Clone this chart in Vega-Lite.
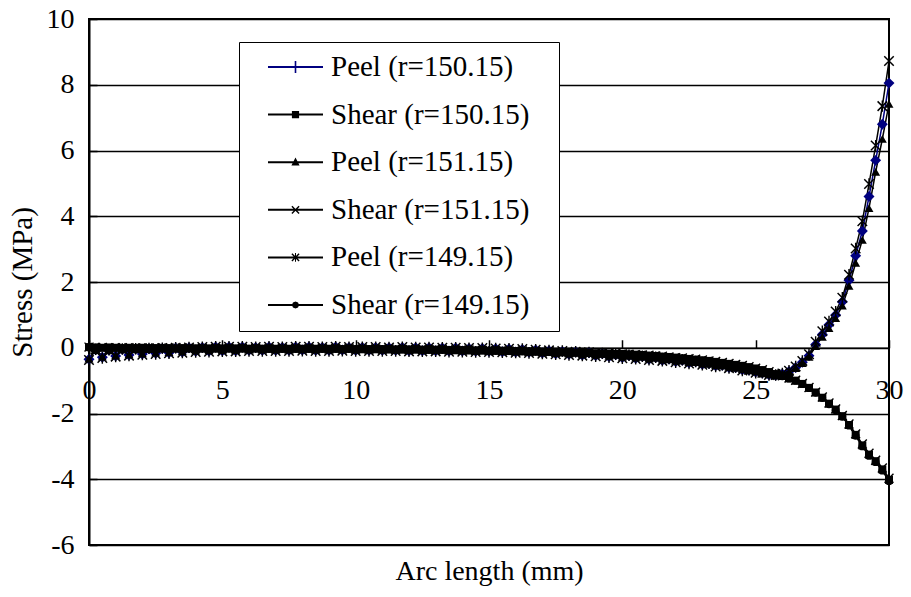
{
  "$schema": "https://vega.github.io/schema/vega-lite/v6.json",
  "width": 800,
  "height": 526,
  "autosize": {"type": "none"},
  "padding": {"left": 89, "top": 19, "right": 22, "bottom": 52},
  "background": "white",
  "config": {
    "font": "Liberation Serif",
    "view": {"stroke": "black", "strokeWidth": 2}
  },
  "data": {"values": [
    {"x":0,"p150":-0.35,"s150":0.02,"p151":-0.33,"s151":0.02,"p149":-0.37,"s149":0.01},
    {"x":0.25,"p150":-0.06,"s150":0.01,"p151":-0.07,"s151":0.01,"p149":-0.05,"s149":0.0},
    {"x":0.5,"p150":-0.29,"s150":0.0,"p151":-0.27,"s151":0.01,"p149":-0.31,"s149":0.0},
    {"x":0.75,"p150":-0.07,"s150":0.01,"p151":-0.08,"s151":0.0,"p149":-0.06,"s149":0.0},
    {"x":1,"p150":-0.25,"s150":0.0,"p151":-0.23,"s151":0.0,"p149":-0.27,"s149":-0.01},
    {"x":1.25,"p150":-0.05,"s150":-0.01,"p151":-0.06,"s151":0.0,"p149":-0.04,"s149":-0.01},
    {"x":1.5,"p150":-0.22,"s150":0.0,"p151":-0.2,"s151":0.0,"p149":-0.24,"s149":-0.01},
    {"x":1.75,"p150":-0.04,"s150":-0.01,"p151":-0.05,"s151":-0.01,"p149":-0.03,"s149":-0.01},
    {"x":2,"p150":-0.19,"s150":0.0,"p151":-0.17,"s151":-0.01,"p149":-0.21,"s149":-0.01},
    {"x":2.25,"p150":-0.03,"s150":-0.01,"p151":-0.04,"s151":-0.01,"p149":-0.02,"s149":-0.02},
    {"x":2.5,"p150":-0.17,"s150":-0.01,"p151":-0.15,"s151":-0.01,"p149":-0.19,"s149":-0.02},
    {"x":2.75,"p150":-0.02,"s150":-0.01,"p151":-0.03,"s151":-0.01,"p149":-0.01,"s149":-0.02},
    {"x":3,"p150":-0.15,"s150":-0.01,"p151":-0.13,"s151":-0.01,"p149":-0.17,"s149":-0.02},
    {"x":3.25,"p150":-0.01,"s150":-0.02,"p151":-0.02,"s151":-0.02,"p149":0.0,"s149":-0.02},
    {"x":3.5,"p150":-0.13,"s150":-0.01,"p151":-0.11,"s151":-0.01,"p149":-0.15,"s149":-0.02},
    {"x":3.75,"p150":0.0,"s150":-0.02,"p151":-0.01,"s151":-0.02,"p149":0.01,"s149":-0.02},
    {"x":4,"p150":-0.11,"s150":-0.02,"p151":-0.09,"s151":-0.02,"p149":-0.13,"s149":-0.02},
    {"x":4.25,"p150":0.01,"s150":-0.02,"p151":0.0,"s151":-0.02,"p149":0.02,"s149":-0.03},
    {"x":4.5,"p150":-0.1,"s150":-0.02,"p151":-0.08,"s151":-0.02,"p149":-0.12,"s149":-0.03},
    {"x":4.75,"p150":0.02,"s150":-0.02,"p151":0.01,"s151":-0.02,"p149":0.03,"s149":-0.03},
    {"x":5,"p150":-0.09,"s150":-0.02,"p151":-0.07,"s151":-0.02,"p149":-0.11,"s149":-0.03},
    {"x":5.25,"p150":0.02,"s150":-0.02,"p151":0.01,"s151":-0.02,"p149":0.03,"s149":-0.03},
    {"x":5.5,"p150":-0.09,"s150":-0.02,"p151":-0.07,"s151":-0.02,"p149":-0.11,"s149":-0.03},
    {"x":5.75,"p150":0.02,"s150":-0.02,"p151":0.01,"s151":-0.02,"p149":0.03,"s149":-0.03},
    {"x":6,"p150":-0.08,"s150":-0.03,"p151":-0.06,"s151":-0.03,"p149":-0.1,"s149":-0.03},
    {"x":6.25,"p150":0.01,"s150":-0.02,"p151":0.0,"s151":-0.02,"p149":0.02,"s149":-0.03},
    {"x":6.5,"p150":-0.08,"s150":-0.03,"p151":-0.06,"s151":-0.03,"p149":-0.1,"s149":-0.03},
    {"x":6.75,"p150":0.02,"s150":-0.03,"p151":0.01,"s151":-0.03,"p149":0.03,"s149":-0.04},
    {"x":7,"p150":-0.08,"s150":-0.03,"p151":-0.06,"s151":-0.03,"p149":-0.1,"s149":-0.04},
    {"x":7.25,"p150":0.01,"s150":-0.03,"p151":0.0,"s151":-0.03,"p149":0.02,"s149":-0.04},
    {"x":7.5,"p150":-0.08,"s150":-0.03,"p151":-0.06,"s151":-0.03,"p149":-0.1,"s149":-0.04},
    {"x":7.75,"p150":0.02,"s150":-0.03,"p151":0.01,"s151":-0.03,"p149":0.03,"s149":-0.04},
    {"x":8,"p150":-0.07,"s150":-0.03,"p151":-0.05,"s151":-0.03,"p149":-0.09,"s149":-0.04},
    {"x":8.25,"p150":0.02,"s150":-0.03,"p151":0.01,"s151":-0.03,"p149":0.03,"s149":-0.04},
    {"x":8.5,"p150":-0.08,"s150":-0.03,"p151":-0.06,"s151":-0.03,"p149":-0.1,"s149":-0.04},
    {"x":8.75,"p150":0.01,"s150":-0.03,"p151":0.0,"s151":-0.03,"p149":0.02,"s149":-0.04},
    {"x":9,"p150":-0.08,"s150":-0.03,"p151":-0.06,"s151":-0.03,"p149":-0.1,"s149":-0.04},
    {"x":9.25,"p150":0.02,"s150":-0.03,"p151":0.01,"s151":-0.03,"p149":0.03,"s149":-0.04},
    {"x":9.5,"p150":-0.07,"s150":-0.04,"p151":-0.05,"s151":-0.03,"p149":-0.09,"s149":-0.04},
    {"x":9.75,"p150":0.01,"s150":-0.03,"p151":0.0,"s151":-0.03,"p149":0.02,"s149":-0.04},
    {"x":10,"p150":-0.08,"s150":-0.04,"p151":-0.06,"s151":-0.04,"p149":-0.1,"s149":-0.05},
    {"x":10.25,"p150":0.01,"s150":-0.04,"p151":0.0,"s151":-0.04,"p149":0.02,"s149":-0.05},
    {"x":10.5,"p150":-0.08,"s150":-0.04,"p151":-0.06,"s151":-0.04,"p149":-0.1,"s149":-0.05},
    {"x":10.75,"p150":0.01,"s150":-0.04,"p151":0.0,"s151":-0.04,"p149":0.02,"s149":-0.05},
    {"x":11,"p150":-0.08,"s150":-0.04,"p151":-0.06,"s151":-0.04,"p149":-0.1,"s149":-0.05},
    {"x":11.25,"p150":0.0,"s150":-0.05,"p151":-0.01,"s151":-0.04,"p149":0.01,"s149":-0.05},
    {"x":11.5,"p150":-0.08,"s150":-0.05,"p151":-0.06,"s151":-0.05,"p149":-0.1,"s149":-0.06},
    {"x":11.75,"p150":0.01,"s150":-0.05,"p151":0.0,"s151":-0.05,"p149":0.02,"s149":-0.06},
    {"x":12,"p150":-0.09,"s150":-0.05,"p151":-0.07,"s151":-0.05,"p149":-0.11,"s149":-0.06},
    {"x":12.25,"p150":0.0,"s150":-0.05,"p151":-0.01,"s151":-0.05,"p149":0.01,"s149":-0.06},
    {"x":12.5,"p150":-0.09,"s150":-0.06,"p151":-0.07,"s151":-0.05,"p149":-0.11,"s149":-0.06},
    {"x":12.75,"p150":0.0,"s150":-0.06,"p151":-0.01,"s151":-0.06,"p149":0.01,"s149":-0.07},
    {"x":13,"p150":-0.09,"s150":-0.06,"p151":-0.07,"s151":-0.06,"p149":-0.11,"s149":-0.07},
    {"x":13.25,"p150":-0.01,"s150":-0.06,"p151":-0.02,"s151":-0.06,"p149":0.0,"s149":-0.07},
    {"x":13.5,"p150":-0.1,"s150":-0.07,"p151":-0.08,"s151":-0.06,"p149":-0.12,"s149":-0.07},
    {"x":13.75,"p150":-0.01,"s150":-0.07,"p151":-0.02,"s151":-0.07,"p149":0.0,"s149":-0.08},
    {"x":14,"p150":-0.1,"s150":-0.07,"p151":-0.08,"s151":-0.07,"p149":-0.12,"s149":-0.08},
    {"x":14.25,"p150":-0.02,"s150":-0.08,"p151":-0.03,"s151":-0.07,"p149":-0.01,"s149":-0.08},
    {"x":14.5,"p150":-0.11,"s150":-0.08,"p151":-0.09,"s151":-0.08,"p149":-0.13,"s149":-0.09},
    {"x":14.75,"p150":-0.02,"s150":-0.08,"p151":-0.03,"s151":-0.08,"p149":-0.01,"s149":-0.09},
    {"x":15,"p150":-0.11,"s150":-0.09,"p151":-0.09,"s151":-0.08,"p149":-0.13,"s149":-0.09},
    {"x":15.25,"p150":-0.03,"s150":-0.09,"p151":-0.04,"s151":-0.09,"p149":-0.02,"s149":-0.1},
    {"x":15.5,"p150":-0.12,"s150":-0.09,"p151":-0.1,"s151":-0.09,"p149":-0.14,"s149":-0.1},
    {"x":15.75,"p150":-0.04,"s150":-0.1,"p151":-0.05,"s151":-0.1,"p149":-0.03,"s149":-0.1},
    {"x":16,"p150":-0.13,"s150":-0.1,"p151":-0.11,"s151":-0.1,"p149":-0.15,"s149":-0.11},
    {"x":16.25,"p150":-0.05,"s150":-0.11,"p151":-0.06,"s151":-0.1,"p149":-0.04,"s149":-0.11},
    {"x":16.5,"p150":-0.14,"s150":-0.11,"p151":-0.12,"s151":-0.11,"p149":-0.16,"s149":-0.12},
    {"x":16.75,"p150":-0.07,"s150":-0.12,"p151":-0.08,"s151":-0.11,"p149":-0.06,"s149":-0.12},
    {"x":17,"p150":-0.16,"s150":-0.12,"p151":-0.14,"s151":-0.12,"p149":-0.18,"s149":-0.13},
    {"x":17.25,"p150":-0.09,"s150":-0.13,"p151":-0.1,"s151":-0.12,"p149":-0.08,"s149":-0.13},
    {"x":17.5,"p150":-0.18,"s150":-0.13,"p151":-0.16,"s151":-0.13,"p149":-0.2,"s149":-0.14},
    {"x":17.75,"p150":-0.11,"s150":-0.14,"p151":-0.12,"s151":-0.13,"p149":-0.1,"s149":-0.14},
    {"x":18,"p150":-0.2,"s150":-0.14,"p151":-0.18,"s151":-0.14,"p149":-0.22,"s149":-0.15},
    {"x":18.25,"p150":-0.13,"s150":-0.15,"p151":-0.14,"s151":-0.14,"p149":-0.12,"s149":-0.15},
    {"x":18.5,"p150":-0.22,"s150":-0.15,"p151":-0.2,"s151":-0.15,"p149":-0.24,"s149":-0.16},
    {"x":18.75,"p150":-0.15,"s150":-0.16,"p151":-0.16,"s151":-0.15,"p149":-0.14,"s149":-0.16},
    {"x":19,"p150":-0.24,"s150":-0.17,"p151":-0.22,"s151":-0.16,"p149":-0.26,"s149":-0.17},
    {"x":19.25,"p150":-0.18,"s150":-0.17,"p151":-0.19,"s151":-0.17,"p149":-0.17,"s149":-0.18},
    {"x":19.5,"p150":-0.27,"s150":-0.18,"p151":-0.25,"s151":-0.17,"p149":-0.29,"s149":-0.18},
    {"x":19.75,"p150":-0.21,"s150":-0.19,"p151":-0.22,"s151":-0.18,"p149":-0.2,"s149":-0.19},
    {"x":20,"p150":-0.3,"s150":-0.19,"p151":-0.28,"s151":-0.19,"p149":-0.32,"s149":-0.2},
    {"x":20.25,"p150":-0.24,"s150":-0.2,"p151":-0.25,"s151":-0.2,"p149":-0.23,"s149":-0.21},
    {"x":20.5,"p150":-0.32,"s150":-0.21,"p151":-0.3,"s151":-0.21,"p149":-0.34,"s149":-0.22},
    {"x":20.75,"p150":-0.27,"s150":-0.22,"p151":-0.28,"s151":-0.22,"p149":-0.26,"s149":-0.23},
    {"x":21,"p150":-0.35,"s150":-0.24,"p151":-0.33,"s151":-0.23,"p149":-0.37,"s149":-0.24},
    {"x":21.25,"p150":-0.3,"s150":-0.25,"p151":-0.31,"s151":-0.25,"p149":-0.29,"s149":-0.26},
    {"x":21.5,"p150":-0.38,"s150":-0.27,"p151":-0.36,"s151":-0.26,"p149":-0.4,"s149":-0.27},
    {"x":21.75,"p150":-0.34,"s150":-0.28,"p151":-0.35,"s151":-0.28,"p149":-0.33,"s149":-0.29},
    {"x":22,"p150":-0.42,"s150":-0.3,"p151":-0.4,"s151":-0.3,"p149":-0.44,"s149":-0.31},
    {"x":22.25,"p150":-0.38,"s150":-0.32,"p151":-0.39,"s151":-0.31,"p149":-0.37,"s149":-0.32},
    {"x":22.5,"p150":-0.46,"s150":-0.34,"p151":-0.44,"s151":-0.33,"p149":-0.48,"s149":-0.35},
    {"x":22.75,"p150":-0.43,"s150":-0.36,"p151":-0.44,"s151":-0.35,"p149":-0.42,"s149":-0.37},
    {"x":23,"p150":-0.5,"s150":-0.38,"p151":-0.48,"s151":-0.37,"p149":-0.52,"s149":-0.39},
    {"x":23.25,"p150":-0.48,"s150":-0.4,"p151":-0.49,"s151":-0.4,"p149":-0.47,"s149":-0.41},
    {"x":23.5,"p150":-0.55,"s150":-0.43,"p151":-0.53,"s151":-0.42,"p149":-0.57,"s149":-0.44},
    {"x":23.75,"p150":-0.53,"s150":-0.46,"p151":-0.54,"s151":-0.45,"p149":-0.52,"s149":-0.47},
    {"x":24,"p150":-0.6,"s150":-0.49,"p151":-0.58,"s151":-0.48,"p149":-0.62,"s149":-0.5},
    {"x":24.25,"p150":-0.6,"s150":-0.52,"p151":-0.61,"s151":-0.51,"p149":-0.59,"s149":-0.53},
    {"x":24.5,"p150":-0.67,"s150":-0.55,"p151":-0.65,"s151":-0.54,"p149":-0.69,"s149":-0.56},
    {"x":24.75,"p150":-0.68,"s150":-0.59,"p151":-0.69,"s151":-0.58,"p149":-0.67,"s149":-0.6},
    {"x":25,"p150":-0.74,"s150":-0.63,"p151":-0.72,"s151":-0.62,"p149":-0.76,"s149":-0.64},
    {"x":25.25,"p150":-0.77,"s150":-0.68,"p151":-0.78,"s151":-0.67,"p149":-0.76,"s149":-0.69},
    {"x":25.5,"p150":-0.82,"s150":-0.74,"p151":-0.81,"s151":-0.73,"p149":-0.83,"s149":-0.75},
    {"x":25.75,"p150":-0.84,"s150":-0.8,"p151":-0.85,"s151":-0.79,"p149":-0.83,"s149":-0.81},
    {"x":26,"p150":-0.8,"s150":-0.86,"p151":-0.8,"s151":-0.85,"p149":-0.78,"s149":-0.87},
    {"x":26.25,"p150":-0.72,"s150":-0.93,"p151":-0.73,"s151":-0.92,"p149":-0.7,"s149":-0.94},
    {"x":26.5,"p150":-0.6,"s150":-1.0,"p151":-0.62,"s151":-0.99,"p149":-0.57,"s149":-1.01},
    {"x":26.75,"p150":-0.44,"s150":-1.1,"p151":-0.47,"s151":-1.09,"p149":-0.4,"s149":-1.11},
    {"x":27,"p150":-0.24,"s150":-1.22,"p151":-0.28,"s151":-1.21,"p149":-0.2,"s149":-1.23},
    {"x":27.25,"p150":0.1,"s150":-1.36,"p151":0.05,"s151":-1.35,"p149":0.18,"s149":-1.37},
    {"x":27.5,"p150":0.4,"s150":-1.52,"p151":0.33,"s151":-1.5,"p149":0.5,"s149":-1.53},
    {"x":27.75,"p150":0.7,"s150":-1.7,"p151":0.6,"s151":-1.68,"p149":0.8,"s149":-1.72},
    {"x":28,"p150":1.0,"s150":-1.88,"p151":0.9,"s151":-1.86,"p149":1.1,"s149":-1.9},
    {"x":28.25,"p150":1.4,"s150":-2.08,"p151":1.28,"s151":-2.06,"p149":1.52,"s149":-2.1},
    {"x":28.5,"p150":2.05,"s150":-2.35,"p151":1.88,"s151":-2.32,"p149":2.22,"s149":-2.37},
    {"x":28.75,"p150":2.8,"s150":-2.65,"p151":2.58,"s151":-2.62,"p149":3.02,"s149":-2.68},
    {"x":29,"p150":3.55,"s150":-2.97,"p151":3.28,"s151":-2.93,"p149":3.85,"s149":-3.0},
    {"x":29.25,"p150":4.6,"s150":-3.25,"p151":4.25,"s151":-3.21,"p149":4.98,"s149":-3.29},
    {"x":29.5,"p150":5.7,"s150":-3.45,"p151":5.35,"s151":-3.42,"p149":6.15,"s149":-3.48},
    {"x":29.75,"p150":6.8,"s150":-3.7,"p151":6.35,"s151":-3.66,"p149":7.35,"s149":-3.74},
    {"x":30,"p150":8.05,"s150":-4.02,"p151":7.42,"s151":-3.97,"p149":8.72,"s149":-4.06}
  ]},
  "transform": [{"fold": ["p150","s150","p151","s151","p149","s149"], "as": ["series","y"]}],
  "encoding": {
    "x": {"field": "x", "type": "quantitative",
      "scale": {"domain": [0, 30], "nice": false, "zero": false},
      "axis": {"title": "Arc length (mm)", "values": [0,5,10,15,20,25,30], "grid": false,
        "offset": -197.25, "domainColor": "black", "domainWidth": 1.5,
        "tickColor": "black", "tickWidth": 1.5, "tickSize": -8,
        "labelFont": "Liberation Serif", "labelFontSize": 28, "labelColor": "black", "labelPadding": 37,
        "labelFlush": false, "labelOverlap": false, "labelExpr": "'' + datum.value",
        "titleFont": "Liberation Serif", "titleFontSize": 28, "titleFontWeight": "normal", "titleColor": "black",
        "titleY": 232, "titleBaseline": "alphabetic"}},
    "y": {"field": "y", "type": "quantitative",
      "scale": {"domain": [-6, 10], "nice": false, "zero": false},
      "axis": {"title": "Stress (MPa)", "values": [-6,-4,-2,0,2,4,6,8,10],
        "grid": true, "gridColor": "black", "gridWidth": 1.3, "gridOpacity": 1,
        "domainColor": "black", "domainWidth": 2,
        "tickColor": "black", "tickWidth": 1.5, "tickSize": -8,
        "labelFont": "Liberation Serif", "labelFontSize": 28, "labelColor": "black", "labelPadding": 23,
        "labelOverlap": false, "labelFlush": false, "labelExpr": "'' + datum.value",
        "titleFont": "Liberation Serif", "titleFontSize": 29, "titleFontWeight": "normal", "titleColor": "black",
        "titleX": -67, "titleY": 263, "titleAngle": -90, "titleBaseline": "middle", "titleAlign": "center"}}
  },
  "layer": [
    {"transform": [{"filter": {"field": "series", "equal": "p150"}}],
     "mark": {"type": "line", "strokeWidth": 1.5, "color": "#000080"}},
    {"transform": [{"filter": {"not": {"field": "series", "equal": "p150"}}}],
     "mark": {"type": "line", "strokeWidth": 1.5, "color": "black"},
     "encoding": {"detail": {"field": "series", "type": "nominal"}}},
    {"transform": [{"filter": {"field": "series", "equal": "p150"}}],
     "mark": {"type": "point", "shape": "diamond", "filled": true, "color": "#000080", "size": 120, "opacity": 1}},
    {"transform": [{"filter": {"field": "series", "equal": "s150"}}],
     "mark": {"type": "point", "shape": "square", "filled": true, "color": "black", "size": 64, "opacity": 1}},
    {"transform": [{"filter": {"field": "series", "equal": "p151"}}],
     "mark": {"type": "point", "shape": "triangle-up", "filled": true, "color": "black", "size": 80, "opacity": 1}},
    {"transform": [{"filter": {"field": "series", "equal": "s151"}}],
     "mark": {"type": "point", "shape": "M-0.89,-1.11L1.11,0.89L0.89,1.11L-1.11,-0.89ZM-1.11,0.89L0.89,-1.11L1.11,-0.89L-0.89,1.11Z", "filled": true, "color": "black", "size": 80, "opacity": 1}},
    {"transform": [{"filter": {"field": "series", "equal": "p149"}}],
     "mark": {"type": "point", "shape": "M-0.89,-1.11L1.11,0.89L0.89,1.11L-1.11,-0.89ZM-1.11,0.89L0.89,-1.11L1.11,-0.89L-0.89,1.11ZM-0.15,-1.2H0.15V1.2H-0.15Z", "filled": true, "color": "black", "size": 90, "opacity": 1}},
    {"transform": [{"filter": {"field": "series", "equal": "s149"}}],
     "mark": {"type": "point", "shape": "circle", "filled": true, "color": "black", "size": 60, "opacity": 1}},
    {"transform": [{"filter": {"field": "x", "equal": 0}}],
     "mark": {"type": "point", "filled": true, "clip": true},
     "encoding": {
       "y": {"datum": 100, "type": "quantitative"},
       "color": {"field": "series", "type": "nominal",
         "scale": {"domain": ["p150","s150","p151","s151","p149","s149"], "range": ["#000080","black","black","black","black","black"]},
         "legend": {"title": null, "orient": "none", "legendX": 150, "legendY": 23, "padding": 10.5,
           "strokeColor": "black", "fillColor": "white", "symbolSize": 841, "symbolStrokeWidth": 0, "symbolOpacity": 1,
           "symbolOffset": 31.5,
           "labelFont": "Liberation Serif", "labelFontSize": 29, "labelColor": "black", "labelOffset": 21, "labelLimit": 0,
           "rowPadding": 17.6,
           "labelExpr": "datum.value=='p150'?'Peel (r=150.15)':datum.value=='s150'?'Shear (r=150.15)':datum.value=='p151'?'Peel (r=151.15)':datum.value=='s151'?'Shear (r=151.15)':datum.value=='p149'?'Peel (r=149.15)':'Shear (r=149.15)'"}},
       "shape": {"field": "series", "type": "nominal",
         "scale": {"domain": ["p150","s150","p151","s151","p149","s149"], "range": [
           "M17.38,0M-1.897,-0.069H1.897V0.069H-1.897ZM-0.055,-0.414H0.055V0.414H-0.055Z",
           "M17.38,0M-1.897,-0.069H1.897V0.069H-1.897ZM-0.248,-0.248H0.248V0.248H-0.248Z",
           "M17.38,0M-1.897,-0.069H1.897V0.069H-1.897ZM0,-0.324L0.283,0.228L-0.283,0.228Z",
           "M17.38,0M-1.897,-0.069H1.897V0.069H-1.897ZM-0.214,-0.282L0.282,0.214L0.214,0.282L-0.282,-0.214ZM-0.282,0.214L0.214,-0.282L0.282,-0.214L-0.214,0.282Z",
           "M17.38,0M-1.897,-0.069H1.897V0.069H-1.897ZM-0.214,-0.282L0.282,0.214L0.214,0.282L-0.282,-0.214ZM-0.282,0.214L0.214,-0.282L0.282,-0.214L-0.214,0.282ZM-0.034,-0.3H0.034V0.3H-0.034Z",
           "M17.38,0M-1.897,-0.069H1.897V0.069H-1.897ZM0.248,0L0.175,0.175L0,0.248L-0.175,0.175L-0.248,0L-0.175,-0.175L0,-0.248L0.175,-0.175Z"
         ]},
         "legend": {"title": null, "orient": "none", "legendX": 150, "legendY": 23, "padding": 10.5,
           "strokeColor": "black", "fillColor": "white", "symbolSize": 841, "symbolStrokeWidth": 0, "symbolOpacity": 1,
           "symbolOffset": 31.5,
           "labelFont": "Liberation Serif", "labelFontSize": 29, "labelColor": "black", "labelOffset": 21, "labelLimit": 0,
           "rowPadding": 17.6,
           "labelExpr": "datum.value=='p150'?'Peel (r=150.15)':datum.value=='s150'?'Shear (r=150.15)':datum.value=='p151'?'Peel (r=151.15)':datum.value=='s151'?'Shear (r=151.15)':datum.value=='p149'?'Peel (r=149.15)':'Shear (r=149.15)'"}}
     }}
  ]
}
